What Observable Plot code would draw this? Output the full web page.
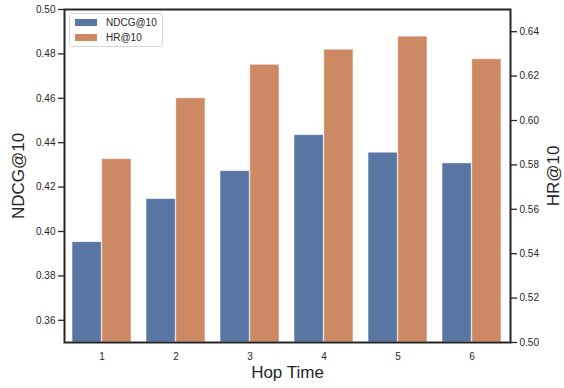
<!DOCTYPE html>
<html>
<head>
<meta charset="utf-8">
<script src="https://cdn.jsdelivr.net/npm/d3@7"></script>
<script src="https://cdn.jsdelivr.net/npm/@observablehq/plot@0.6"></script>
<style>
  html, body { margin: 0; padding: 0; background: #fff; }
  #wrap { position: relative; width: 564px; height: 388px; font-family: "Liberation Sans", Arial, sans-serif; }
  #legend { position: absolute; left: 69px; top: 13px; width: 94px; height: 34px; border: 1px solid #d6d6d6; border-radius: 3px; background: rgba(255,255,255,0.8); box-sizing: border-box; font-size: 10px; color: #262626; }
  .item { position: absolute; left: 5px; display: flex; align-items: center; }
  .sw { width: 22px; height: 7px; margin-right: 9px; }
</style>
</head>
<body>
<div id="wrap"></div>
<script>
const hops = [1, 2, 3, 4, 5, 6];
const ndcg = [0.3952, 0.4146, 0.4272, 0.4434, 0.4355, 0.4307];
const hr = [0.5826, 0.6100, 0.6251, 0.6319, 0.6378, 0.6276];
const seriesNames = ["NDCG@10", "HR@10"];
const seriesColors = ["#5975a4", "#cc8963"];
const leftTicks = [0.36, 0.38, 0.40, 0.42, 0.44, 0.46, 0.48, 0.50];
const rightTicks = [0.50, 0.52, 0.54, 0.56, 0.58, 0.60, 0.62, 0.64];
const leftDomain = [0.35, 0.50];
const rightDomain = [0.50, 0.65];
const offset = rightDomain[0] - leftDomain[0];

const rows = hops.map((h, i) => ({hop: h, ndcg: ndcg[i], hr: hr[i]}));

const W = 564, H = 388;
const mL = 64, mR = 54, mT = 9, mB = 46;
const step = (W - mL - mR) / (hops.length);
const bw = step * 0.8;
const half = bw / 2;

const textStyle = {fontFamily: "Liberation Sans, Arial, sans-serif", fill: "#262626"};

const chart = Plot.plot({
  width: W,
  height: H,
  marginLeft: mL,
  marginRight: mR,
  marginTop: mT,
  marginBottom: mB,
  style: {fontFamily: "Liberation Sans, Arial, sans-serif", background: "white", color: "#262626"},
  x: {type: "band", domain: hops, paddingInner: 0.2, paddingOuter: 0.1},
  y: {domain: leftDomain},
  marks: [
    Plot.barY(rows, {x: "hop", y1: leftDomain[0], y2: "ndcg", fill: seriesColors[0], insetRight: half, stroke: "white", strokeOpacity: 0.55, strokeWidth: 1}),
    Plot.barY(rows, {x: "hop", y1: leftDomain[0], y2: d => d.hr - offset, fill: seriesColors[1], insetLeft: half, stroke: "white", strokeOpacity: 0.55, strokeWidth: 1}),
    Plot.axisX({tickSize: 0, tickPadding: 10, fontSize: 10, label: null, ...textStyle}),
    Plot.axisY(leftTicks, {anchor: "left", tickSize: 6, tickPadding: 3, tickFormat: d3.format(".2f"), fontSize: 10, label: null, stroke: "#262626", strokeWidth: 1.3, ...textStyle}),
    Plot.axisY(rightTicks.map(v => v - offset), {anchor: "right", tickSize: 6, tickPadding: 3, tickFormat: v => (v + offset).toFixed(2), fontSize: 10, label: null, stroke: "#262626", strokeWidth: 1.3, ...textStyle}),
    Plot.frame({stroke: "#262626", strokeWidth: 2}),
    Plot.text(["NDCG@10"], {text: d => d, frameAnchor: "left", textAnchor: "middle", rotate: -90, dx: -46, fontSize: 17, ...textStyle}),
    Plot.text(["HR@10"], {text: d => d, frameAnchor: "right", textAnchor: "middle", rotate: -90, dx: 43, fontSize: 17, ...textStyle}),
    Plot.text(["Hop Time"], {text: d => d, frameAnchor: "bottom", dy: 35, fontSize: 17, ...textStyle})
  ]
});

const wrap = document.getElementById("wrap");
wrap.appendChild(chart);

const legend = document.createElement("div");
legend.id = "legend";
seriesNames.forEach((name, i) => {
  const item = document.createElement("div");
  item.className = "item";
  item.style.top = (3 + i * 15) + "px";
  const sw = document.createElement("span");
  sw.className = "sw";
  sw.style.background = seriesColors[i];
  const label = document.createElement("span");
  label.textContent = name;
  item.appendChild(sw);
  item.appendChild(label);
  legend.appendChild(item);
});
wrap.appendChild(legend);
</script>
</body>
</html>
